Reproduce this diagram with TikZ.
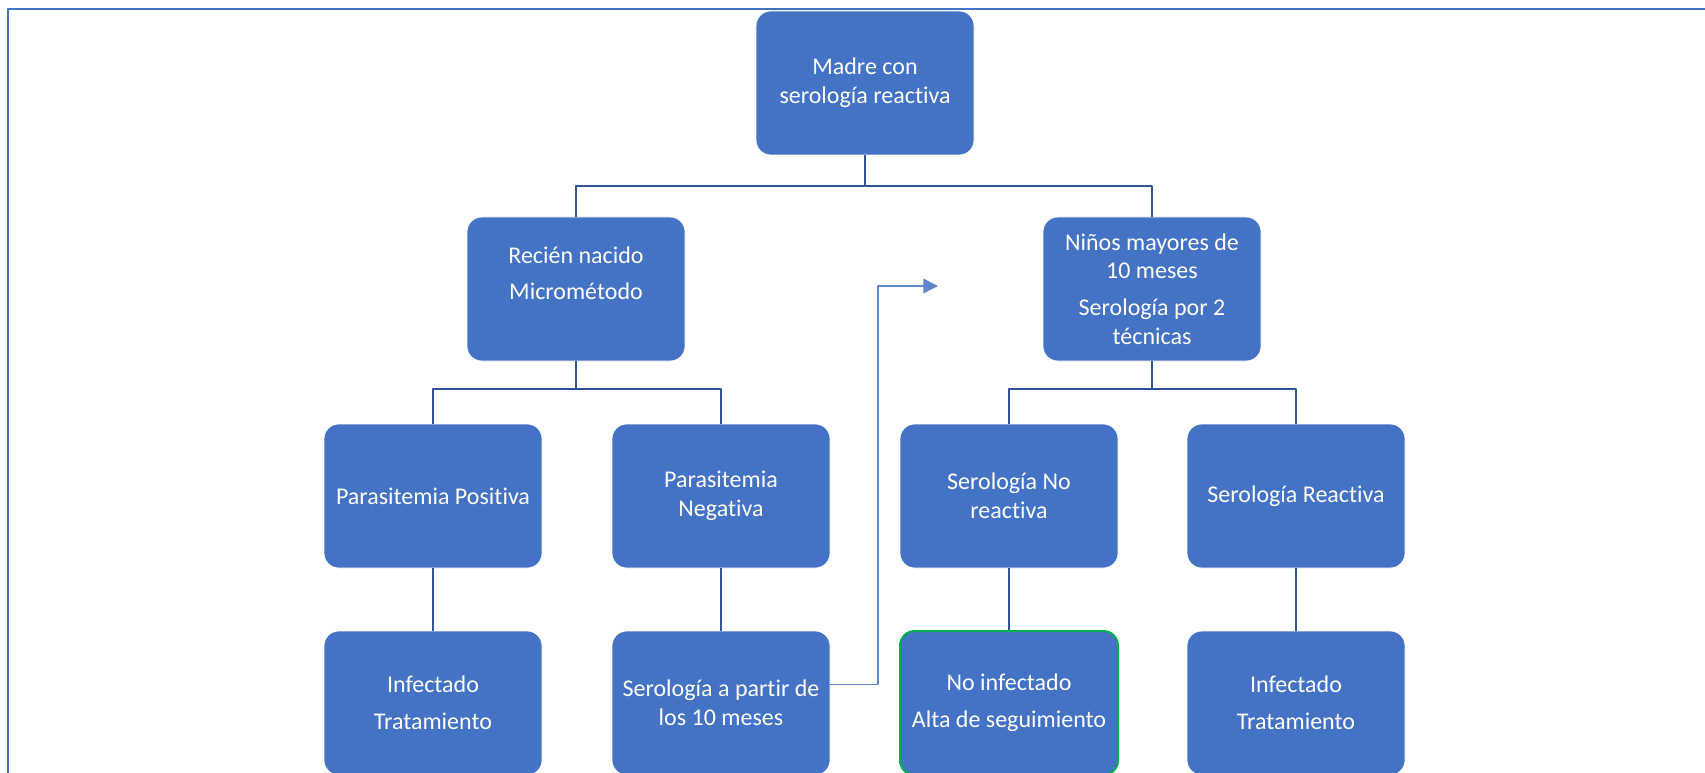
\documentclass[tikz,border=0pt]{standalone}
\usepackage{fontspec}
\setmainfont{Carlito}[Ligatures={NoCommon,NoContextual},Contextuals=NoAlternate]
\usetikzlibrary{arrows.meta}
\definecolor{cajaazul}{RGB}{68,114,196}
\definecolor{lineaazul}{RGB}{47,85,151}
\definecolor{verde}{RGB}{0,176,80}
\tikzset{
  caja/.style={draw=white, line width=0.6pt, fill=cajaazul, rounded corners=11pt,
    minimum width=163.5pt, minimum height=108pt, text=white, align=center,
    font=\fontsize{18pt}{21.5pt}\selectfont},
  rama/.style={draw=lineaazul, line width=1.5pt},
  flecha/.style={draw=cajaazul!85!white, line width=1.1pt, -{Triangle[length=11pt,width=11pt]}}
}
\begin{document}
\begin{tikzpicture}[x=0.75pt,y=-0.75pt,line join=round]
	\useasboundingbox (0,0) rectangle (1705,773);
	% marco
	\draw[cajaazul, line width=1.8pt] (8,773)--(8,9)--(1705,9);
	% cajas
	\node[caja] (madre) at (865,83) {Madre con\\serología reactiva};
	\node[caja] (recien) at (576,289) {Recién nacido\\[6pt]Micrométodo\\[2pt]~};
	\node[caja] (ninos) at (1152,289) {Niños mayores de\\10 meses\\[6pt]Serología por 2\\técnicas};
	\node[caja] (parpos) at (433,496) {Parasitemia Positiva};
	\node[caja] (parneg) at (721,496) {Parasitemia\\Negativa};
	\node[caja] (serno) at (1009,496) {Serología No\\reactiva};
	\node[caja] (serreac) at (1296,496) {Serología Reactiva};
	\node[caja] (inf1) at (433,703) {Infectado\\[6pt]Tratamiento};
	\node[caja] (ser10) at (721,703) {Serología a partir de\\los 10 meses};
	\node[caja, draw=verde, line width=1.5pt] (noinf) at (1009,703) {No infectado\\[6pt]Alta de seguimiento};
	\node[caja] (inf2) at (1296,703) {Infectado\\[6pt]Tratamiento};
	% ramas
	\coordinate (n1) at (865,186);
	\coordinate (n2) at (576,389);
	\coordinate (n3) at (1152,389);
	\draw[rama] (madre.south)--(n1);
	\draw[rama] (recien.north)|-(n1)-|(ninos.north);
	\draw[rama] (recien.south)--(n2);
	\draw[rama] (parpos.north)|-(n2)-|(parneg.north);
	\draw[rama] (ninos.south)--(n3);
	\draw[rama] (serno.north)|-(n3)-|(serreac.north);
	\draw[rama] (parpos)--(inf1);
	\draw[rama] (parneg)--(ser10);
	\draw[rama] (serno)--(noinf);
	\draw[rama] (serreac)--(inf2);
	% flecha
	\coordinate (codo) at (878,286);
	\coordinate (punta) at (938,286);
	\draw[flecha] ([yshift=14pt]ser10.east)-|(codo)--(punta);
\end{tikzpicture}
\end{document}
